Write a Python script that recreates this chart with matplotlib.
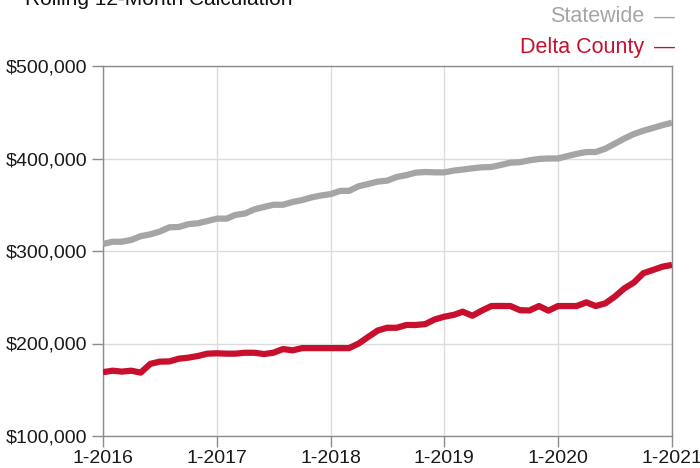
import matplotlib
matplotlib.use("Agg")
import matplotlib.pyplot as plt
import matplotlib.dates as mdates
import matplotlib.ticker as mticker
import pandas as pd

plt.rcParams['font.family'] = ['Liberation Sans', 'DejaVu Sans']

# monthly points, 1-2016 .. 1-2021 (rolling 12-month median sales price)
months = pd.date_range("2016-01-01", periods=61, freq="MS")

statewide = [
    307600, 310000, 310000, 312000, 316000, 318000, 321000, 325600, 326000, 329000,
    330000, 332400, 335000, 335000, 339000, 340500, 345000, 347600, 350000, 350000,
    353000, 355000, 358000, 360000, 361500, 365000, 365000, 370000, 372400, 375000,
    376000, 380000, 382000, 384700, 385400, 385000, 385000, 387000, 388000, 389400,
    390500, 390800, 393000, 395500, 396000, 398000, 399500, 400000, 400000, 402700,
    405000, 407000, 407000, 410600, 416000, 421600, 426500, 430000, 433000, 436000,
    438700,
]

delta_county = [
    169000, 170600, 169600, 170600, 168500, 178000, 180400, 180600, 183600, 184700,
    186500, 189000, 189400, 189000, 189000, 190000, 190000, 188600, 190000, 194000,
    192600, 195000, 195000, 195000, 195000, 195000, 195000, 200000, 207000, 214000,
    217000, 217000, 220000, 220000, 221000, 226000, 229000, 231000, 234400, 230000,
    235500, 240500, 240600, 240500, 236000, 235700, 240500, 235500, 240500, 240500,
    240500, 244500, 240500, 243400, 250600, 259600, 266000, 276000, 279500, 283000,
    285000,
]

GRAY = "#a5a5a5"
RED = "#c8102e"

fig = plt.figure(figsize=(7.0, 4.68), dpi=100)
ax = fig.add_axes([103 / 700, 1 - 436 / 468, (672 - 103) / 700, (436 - 66) / 468])

ax.plot(months, statewide, color=GRAY, lw=4.5, solid_capstyle="butt", zorder=3)
ax.plot(months, delta_county, color=RED, lw=4.5, solid_capstyle="butt", zorder=4)

ax.set_xlim(months[0], months[-1])
ax.set_ylim(100000, 500000)
ax.yaxis.set_major_locator(mticker.MultipleLocator(100000))
ax.yaxis.set_major_formatter(mticker.FuncFormatter(lambda v, p: f"${v:,.0f}"))
ax.xaxis.set_major_locator(mdates.YearLocator())
ax.xaxis.set_major_formatter(mdates.DateFormatter("1-%Y"))

ax.grid(True, color="#dcdcdc", lw=1)
ax.set_axisbelow(True)
for s in ax.spines.values():
    s.set_color("#8c8c8c")
    s.set_linewidth(1)
ax.tick_params(axis="both", length=8, width=1, color="#8c8c8c",
               labelsize=14, labelcolor="#1a1a1a", pad=2)
ax.tick_params(axis="y", pad=3)

# title sits mostly above the canvas, as in the source image
fig.text(0.035, 1 - 5 / 468, "Rolling 12-Month Calculation", fontsize=15,
         color="#111111", va="baseline", ha="left")

# legend: label + dash
fig.text(644 / 700, 1 - 17 / 468, "Statewide", color=GRAY, fontsize=15.5,
         ha="right", va="center")
fig.text(664 / 700, 1 - 17 / 468, "—", color=GRAY, fontsize=15,
         ha="center", va="center")
fig.text(644 / 700, 1 - 47 / 468, "Delta County", color=RED, fontsize=15.5,
         ha="right", va="center")
fig.text(664 / 700, 1 - 47 / 468, "—", color=RED, fontsize=15,
         ha="center", va="center")

fig.savefig("out.png", dpi=100)
